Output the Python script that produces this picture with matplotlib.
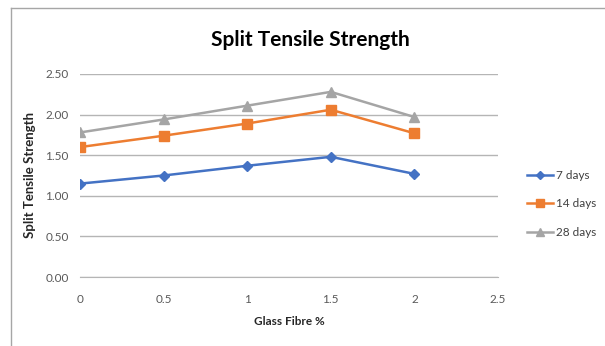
import matplotlib
matplotlib.use("Agg")
import matplotlib.pyplot as plt
from matplotlib.lines import Line2D

plt.rcParams['font.family'] = ['Lato', 'DejaVu Sans']

fibre = [0, 0.5, 1, 1.5, 2]
days7 = [1.15, 1.25, 1.37, 1.48, 1.27]
days14 = [1.60, 1.74, 1.89, 2.06, 1.77]
days28 = [1.78, 1.94, 2.11, 2.28, 1.97]
series_names = ["7 days", "14 days", "28 days"]
xticks = [0, 0.5, 1, 1.5, 2, 2.5]
yticks = [0.0, 0.5, 1.0, 1.5, 2.0, 2.5]

fig = plt.figure(figsize=(6.05, 3.46), dpi=100)
ax = fig.add_axes([80/605, 1-277/346, 418/605, 203/346])

ax.plot(fibre, days7, color='#4472C4', marker='D', markersize=5, lw=1.8, label=series_names[0])
ax.plot(fibre, days14, color='#ED7D31', marker='s', markersize=7, lw=1.8, label=series_names[1])
ax.plot(fibre, days28, color='#A5A5A5', marker='^', markersize=7, lw=1.8, label=series_names[2])

ax.set_xlim(0, 2.5)
ax.set_ylim(0, 2.5)
ax.set_xticks(xticks)
ax.set_xticklabels([f"{v:g}" for v in xticks])
ax.set_yticks(yticks)
ax.set_yticklabels([f"{v:.2f}" for v in yticks])
ax.yaxis.grid(True, color='#b5b5b5', lw=1)
ax.set_axisbelow(True)
for s in ['top', 'right', 'left']:
    ax.spines[s].set_visible(False)
ax.spines['bottom'].set_color('#b5b5b5')
ax.tick_params(axis='both', length=0, labelsize=8.5, colors='#595959', pad=8)
ax.tick_params(axis='x', pad=12)

ax.set_xlabel("Glass Fibre %", fontsize=8.5, fontweight='bold', color='#262626', labelpad=8)
ax.set_ylabel("Split Tensile Strength", fontsize=9.5, fontweight='bold', color='#262626', labelpad=7)

fig.text(310/605, 1-40/346, "Split Tensile Strength", ha='center', va='center',
         fontsize=15, fontweight='bold', color='black')

leg = fig.legend(loc='upper left', bbox_to_anchor=(522/605, 1-165/346), frameon=False,
                 fontsize=8.5, labelspacing=1.5, handlelength=2.2, handletextpad=0.3,
                 borderaxespad=0, markerscale=0.75)
for t in leg.get_texts():
    t.set_color('#404040')

# outer frame (left and top)
fig.add_artist(Line2D([10.5/605, 10.5/605], [0, 1-8/346], transform=fig.transFigure, color='#a6a6a6', lw=1))
fig.add_artist(Line2D([10.5/605, 1], [1-8/346, 1-8/346], transform=fig.transFigure, color='#a6a6a6', lw=1))

fig.savefig("out.png", dpi=100)
